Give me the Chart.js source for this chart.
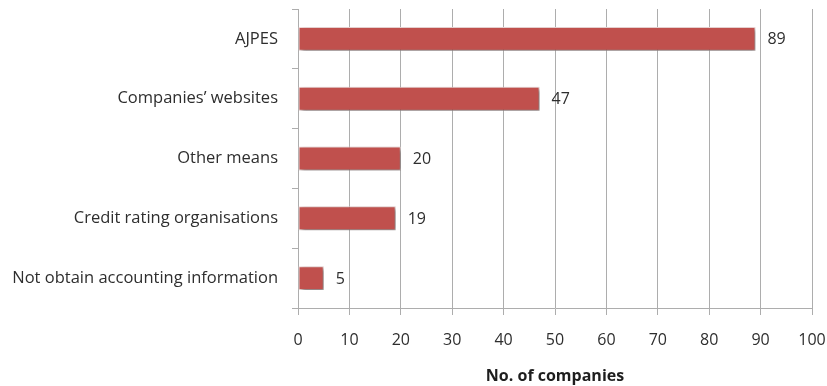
<!DOCTYPE html>
<html>
<head>
<meta charset="utf-8">
<script src="https://cdn.jsdelivr.net/npm/chart.js@4.4.0/dist/chart.umd.min.js"></script>
<style>
  html, body { margin: 0; padding: 0; background: #fff; }
  #wrap { width: 827px; height: 386px; position: relative; }
</style>
</head>
<body>
<div id="wrap"><canvas id="sourcesChart" width="827" height="386"></canvas></div>
<script>
// Where companies obtain accounting information
const categories = ['AJPES', 'Companies\u2019 websites', 'Other means', 'Credit rating organisations', 'Not obtain accounting information'];
const companyCounts = [89, 47, 20, 19, 5];
const xTicks = [0, 10, 20, 30, 40, 50, 60, 70, 80, 90, 100];

const textColor = '#2e2e2e';
const gridColor = '#adadad';
const fontFamily = "'Open Sans', 'Noto Sans', sans-serif";

// soft drop shadow under the bars, like the original office chart
const barShadow = {
    id: 'barShadow',
    beforeDatasetsDraw(chart) {
        const ctx = chart.ctx;
        ctx.save();
        ctx.shadowColor = 'rgba(0, 0, 0, 0.5)';
        ctx.shadowBlur = 4;
        ctx.shadowOffsetX = 2;
        ctx.shadowOffsetY = 2;
    },
    afterDatasetsDraw(chart) {
        chart.ctx.restore();
    }
};

// value labels at the end of each bar
const valueLabels = {
    id: 'valueLabels',
    afterDatasetsDraw(chart) {
        const ctx = chart.ctx;
        const meta = chart.getDatasetMeta(0);
        ctx.save();
        ctx.font = '16px ' + fontFamily;
        ctx.fillStyle = textColor;
        ctx.textAlign = 'left';
        ctx.textBaseline = 'middle';
        meta.data.forEach(function(bar, i) {
            ctx.fillText(String(companyCounts[i]), bar.x + 12, bar.y + 1);
        });
        ctx.restore();
    }
};

document.addEventListener('DOMContentLoaded', function() {
    const ctx = document.getElementById('sourcesChart').getContext('2d');
    new Chart(ctx, {
        type: 'bar',
        data: {
            labels: categories,
            datasets: [{
                data: companyCounts,
                backgroundColor: '#c0504d',
                borderColor: '#f4dcdb',
                borderWidth: 1,
                borderSkipped: false,
                categoryPercentage: 0.74,
                barPercentage: 0.54
            }]
        },
        options: {
            indexAxis: 'y',
            responsive: false,
            animation: false,
            events: [],
            layout: { padding: { top: 9, right: 15, left: 0, bottom: 0 } },
            plugins: {
                legend: { display: false },
                tooltip: { enabled: false }
            },
            scales: {
                x: {
                    min: 0,
                    max: 100,
                    afterBuildTicks(axis) {
                        axis.ticks = xTicks.map(v => ({ value: v }));
                    },
                    afterFit(axis) {
                        axis.height = 78;
                        axis.paddingLeft = 0;
                        axis.paddingRight = 0;
                    },
                    grid: {
                        color: gridColor,
                        lineWidth: 1,
                        tickLength: 7,
                        drawTicks: true
                    },
                    border: { color: gridColor, width: 1 },
                    ticks: {
                        color: textColor,
                        font: { family: fontFamily, size: 16 },
                        padding: 16,
                        maxRotation: 0
                    },
                    title: {
                        display: true,
                        text: 'No. of companies',
                        color: '#1e1e1e',
                        font: { family: fontFamily, size: 16, weight: 'bold' },
                        padding: { top: 7, bottom: 0 }
                    }
                },
                y: {
                    afterFit(axis) {
                        axis.width = 298;
                        axis.paddingTop = 0;
                        axis.paddingBottom = 0;
                    },
                    grid: {
                        offset: true,
                        drawOnChartArea: false,
                        color: gridColor,
                        tickLength: 6
                    },
                    border: { color: gridColor, width: 1 },
                    ticks: {
                        color: textColor,
                        font: { family: fontFamily, size: 16.5 },
                        padding: 14
                    }
                }
            }
        },
        plugins: [barShadow, valueLabels]
    });
});
</script>
</body>
</html>
